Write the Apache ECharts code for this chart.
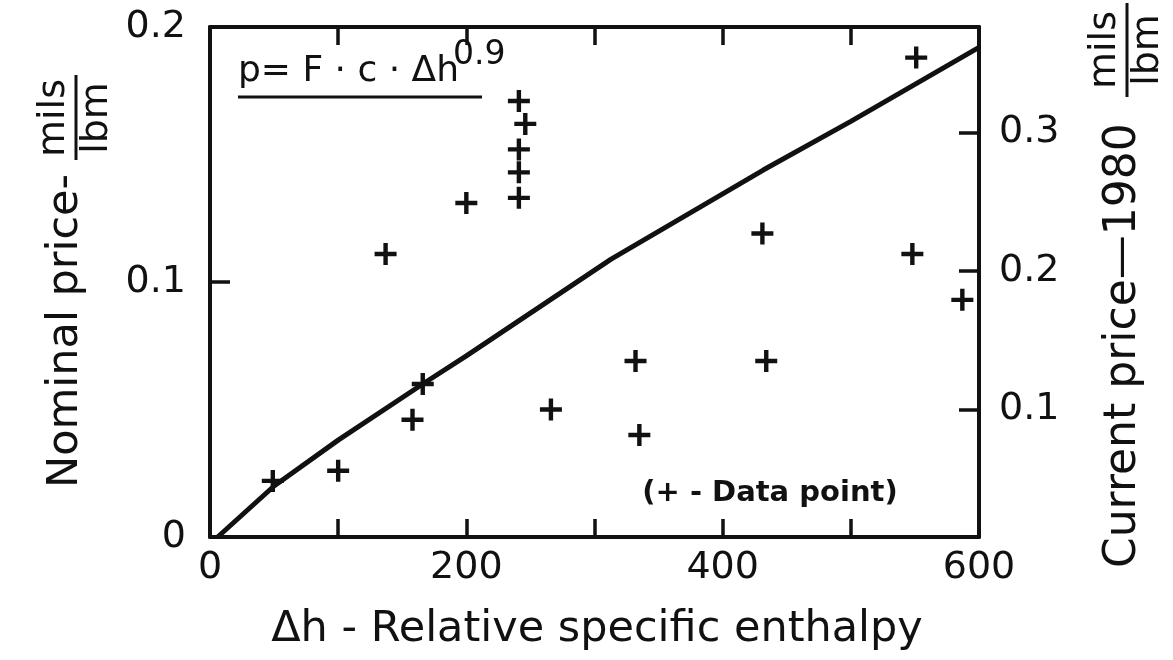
<!DOCTYPE html>
<html>
<head>
<meta charset="utf-8">
<script src="https://cdn.jsdelivr.net/npm/echarts@6/dist/echarts.min.js"></script>
<style>
html,body{margin:0;padding:0;background:#fff;}
#chart{width:1173px;height:660px;}
</style>
</head>
<body>
<div id="chart"></div>
<script>
// Data points (Δh, nominal price mils/lbm)
const dataX = [49, 100, 137, 158, 166, 200, 241, 241, 241, 246, 241, 266, 332, 335, 431, 434, 548, 551, 587];
const dataY = [0.022, 0.026, 0.111, 0.046, 0.060, 0.131, 0.133, 0.143, 0.152, 0.162, 0.171, 0.050, 0.069, 0.040, 0.119, 0.069, 0.111, 0.188, 0.093];
// Fitted curve p = F·c·Δh^0.9
const curveX = [6, 50, 100, 166, 200, 313, 432, 500, 600];
const curveY = [0, 0.020, 0.038, 0.060, 0.071, 0.109, 0.144, 0.163, 0.192];
// Tick labels
const xTickLabels = ['0', '200', '400', '600'];
const yLeftTickLabels = ['0', '0.1', '0.2'];
const yRightTickLabels = ['0.1', '0.2', '0.3'];

const FONT = 'DejaVu Sans';
const INK = '#111';

const chart = echarts.init(document.getElementById('chart'), null, {renderer: 'canvas'});

const axisLineStyle = {color: INK, width: 4};
const tickStyle = {color: INK, width: 3.5};

function fmtX(v) {
  const s = String(Math.round(v));
  return xTickLabels.indexOf(s) >= 0 && Math.abs(v - Math.round(v)) < 1e-6 ? s : '';
}
function fmtYL(v) {
  for (const t of yLeftTickLabels) { if (Math.abs(v - parseFloat(t)) < 1e-6) return t; }
  return '';
}
function fmtYR(v) {
  for (const t of yRightTickLabels) { if (Math.abs(v - parseFloat(t)) < 1e-6) return t; }
  return '';
}

const option = {
  backgroundColor: '#fff',
  animation: false,
  grid: {left: 210, right: 194, top: 27, bottom: 123},
  xAxis: [
    {
      type: 'value', min: 0, max: 600, interval: 100, position: 'bottom',
      axisLine: {show: true, lineStyle: axisLineStyle},
      axisTick: {show: true, inside: true, length: 18, lineStyle: tickStyle},
      splitLine: {show: false},
      axisLabel: {formatter: fmtX, fontFamily: FONT, fontSize: 38, color: INK, margin: 12}
    },
    {
      type: 'value', min: 0, max: 600, interval: 100, position: 'top',
      axisLine: {show: true, onZero: false, lineStyle: axisLineStyle},
      axisTick: {show: true, inside: true, length: 18, lineStyle: tickStyle},
      splitLine: {show: false},
      axisLabel: {show: false}
    }
  ],
  yAxis: [
    {
      type: 'value', min: 0, max: 0.2, interval: 0.1, position: 'left',
      axisLine: {show: true, onZero: false, lineStyle: axisLineStyle},
      axisTick: {show: true, inside: true, length: 20, lineStyle: tickStyle},
      splitLine: {show: false},
      axisLabel: {formatter: fmtYL, fontFamily: FONT, fontSize: 38, color: INK, margin: 24}
    },
    {
      type: 'value', min: 0.008, max: 0.376, splitNumber: 4, position: 'right',
      axisLine: {show: true, onZero: false, lineStyle: axisLineStyle},
      axisTick: {show: true, inside: true, length: 20, lineStyle: tickStyle},
      splitLine: {show: false},
      axisLabel: {formatter: fmtYR, fontFamily: FONT, fontSize: 38, color: INK, margin: 20}
    }
  ],
  series: [
    {
      type: 'line', name: 'fit', xAxisIndex: 0, yAxisIndex: 0,
      data: curveX.map((x, i) => [x, curveY[i]]),
      symbol: 'none', smooth: false,
      lineStyle: {color: INK, width: 5}, z: 2
    },
    {
      type: 'scatter', name: 'Data point', xAxisIndex: 0, yAxisIndex: 0,
      data: dataX.map((x, i) => [x, dataY[i]]),
      symbol: 'path://M4,0 L6,0 L6,4 L10,4 L10,6 L6,6 L6,10 L4,10 L4,6 L0,6 L0,4 L4,4 Z',
      symbolSize: 22,
      itemStyle: {color: INK, opacity: 1}, z: 3
    }
  ],
  graphic: [
    // formula
    {type: 'text', x: 238, y: 72, style: {text: 'p= F · c · Δh', font: '36px "DejaVu Sans"', fill: INK, align: 'left', verticalAlign: 'middle'}},
    {type: 'text', x: 453, y: 55, style: {text: '0.9', font: '33px "DejaVu Sans"', fill: INK, align: 'left', verticalAlign: 'middle'}},
    {type: 'line', shape: {x1: 238, y1: 97, x2: 482, y2: 97}, style: {stroke: INK, lineWidth: 3}},
    // data point note
    {type: 'text', x: 770, y: 493, style: {text: '(+ - Data point)', font: 'bold 29px "DejaVu Sans"', fill: INK, align: 'center', verticalAlign: 'middle'}},
    // x title
    {type: 'text', x: 597, y: 630, style: {text: 'Δh - Relative specific enthalpy', font: '43px "DejaVu Sans"', fill: INK, align: 'center', verticalAlign: 'middle'}},
    // left title group
    {type: 'group', x: 66, y: 488, rotation: Math.PI / 2, children: [
      {type: 'text', x: 0, y: 0, style: {text: 'Nominal price-', font: '43px "DejaVu Sans"', fill: INK, align: 'left', verticalAlign: 'middle'}},
      {type: 'line', shape: {x1: 328, y1: 10, x2: 413, y2: 10}, style: {stroke: INK, lineWidth: 3}},
      {type: 'text', x: 370, y: 7, style: {text: 'mils', font: '38px "DejaVu Sans"', fill: INK, align: 'center', verticalAlign: 'bottom'}},
      {type: 'text', x: 370, y: 12, style: {text: 'lbm', font: '38px "DejaVu Sans"', fill: INK, align: 'center', verticalAlign: 'top'}}
    ]},
    // right title group
    {type: 'group', x: 1124, y: 568, rotation: Math.PI / 2, children: [
      {type: 'text', x: 0, y: 0, style: {text: 'Current price—1980', font: '44px "DejaVu Sans"', fill: INK, align: 'left', verticalAlign: 'middle'}},
      {type: 'line', shape: {x1: 471, y1: 3, x2: 565, y2: 3}, style: {stroke: INK, lineWidth: 3}},
      {type: 'text', x: 518, y: 0, style: {text: 'mils', font: '38px "DejaVu Sans"', fill: INK, align: 'center', verticalAlign: 'bottom'}},
      {type: 'text', x: 518, y: 5, style: {text: 'lbm', font: '38px "DejaVu Sans"', fill: INK, align: 'center', verticalAlign: 'top'}}
    ]}
  ]
};
chart.setOption(option);
</script>
</body>
</html>
